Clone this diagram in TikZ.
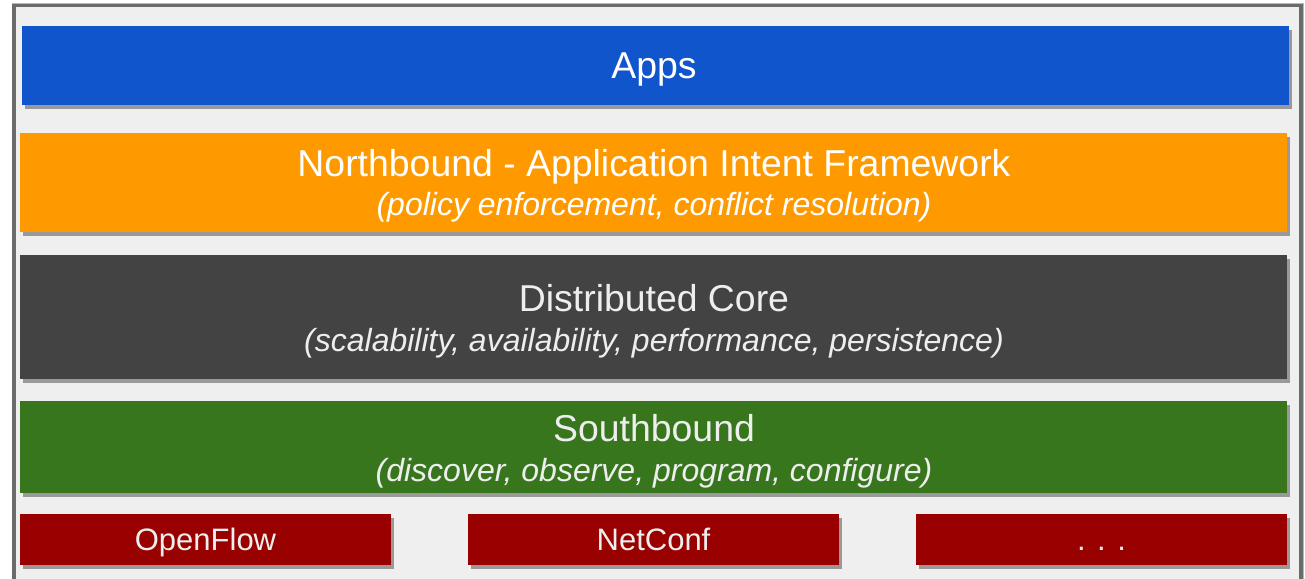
\documentclass[tikz,border=0pt]{standalone}
\usepackage{fontspec}
\setmainfont{Liberation Sans}
\usetikzlibrary{shadows}
\definecolor{bgc}{HTML}{EFEFEF}
\definecolor{framec}{HTML}{6B6B6B}
\definecolor{shc}{HTML}{999999}
\definecolor{appsc}{HTML}{1155CC}
\definecolor{northc}{HTML}{FF9900}
\definecolor{corec}{HTML}{434343}
\definecolor{southc}{HTML}{38761D}
\definecolor{protoc}{HTML}{990000}
\definecolor{lightt}{HTML}{EEEEEE}
\tikzset{
  layer/.style={rectangle, inner sep=0pt, outer sep=0pt, draw=none,
    drop shadow={shadow xshift=3pt, shadow yshift=-4pt, fill=shc, opacity=1}},
  titletext/.style={anchor=base, inner sep=0pt, font=\fontsize{37.4}{44}\selectfont},
  subtext/.style={anchor=base, inner sep=0pt, font=\fontsize{32}{38}\selectfont\itshape},
  prototext/.style={anchor=base, inner sep=0pt, font=\fontsize{31}{37}\selectfont, text=lightt},
}
\begin{document}
\begin{tikzpicture}[x=1pt,y=-1pt]
\useasboundingbox (0,0) rectangle (1305,578);
\begin{scope}
\clip (0,0) rectangle (1305,578);
\draw[draw=shc!70, line width=1pt, fill=none] (12,4) rectangle (1303.5,600);
\draw[draw=framec, line width=3.5pt, fill=bgc] (13.75,5.75) rectangle (1301,600);
\end{scope}
% layers
\node[layer, fill=appsc, minimum width=1267pt, minimum height=79pt] (apps) at (655.5,65.5) {};
\node[layer, fill=northc, minimum width=1267pt, minimum height=98.7pt] (north) at (653.5,182.3) {};
\node[layer, fill=corec, minimum width=1267pt, minimum height=124pt] (core) at (653.5,317) {};
\node[layer, fill=southc, minimum width=1267pt, minimum height=92pt] (south) at (653.5,447) {};
\node[layer, fill=protoc, minimum width=371pt, minimum height=51pt] (of) at (205.5,539.5) {};
\node[layer, fill=protoc, minimum width=371pt, minimum height=51pt] (nc) at (653.5,539.5) {};
\node[layer, fill=protoc, minimum width=371pt, minimum height=51pt] (etc) at (1101.5,539.5) {};
% texts
\node[titletext, text=white] (appsT) at (654,78) {Apps};
\node[titletext, text=white] (northT) at (654,176.7) {Northbound - Application Intent Framework};
\node[subtext, text=white] (northS) at (654,215) {(policy enforcement, conflict resolution)};
\node[titletext, text=lightt] (coreT) at (654,311.7) {Distributed Core};
\node[subtext, text=lightt] (coreS) at (654,351) {(scalability, availability, performance, persistence)};
\node[titletext, text=lightt] (southT) at (654,441.7) {Southbound};
\node[subtext, text=lightt] (southS) at (654,481) {(discover, observe, program, configure)};
\node[prototext] (ofT) at (205.5,550) {OpenFlow};
\node[prototext] (ncT) at (653.5,550) {NetConf};
\node[prototext] (etcT) at (1101.5,550) {. . .};
\end{tikzpicture}
\end{document}
